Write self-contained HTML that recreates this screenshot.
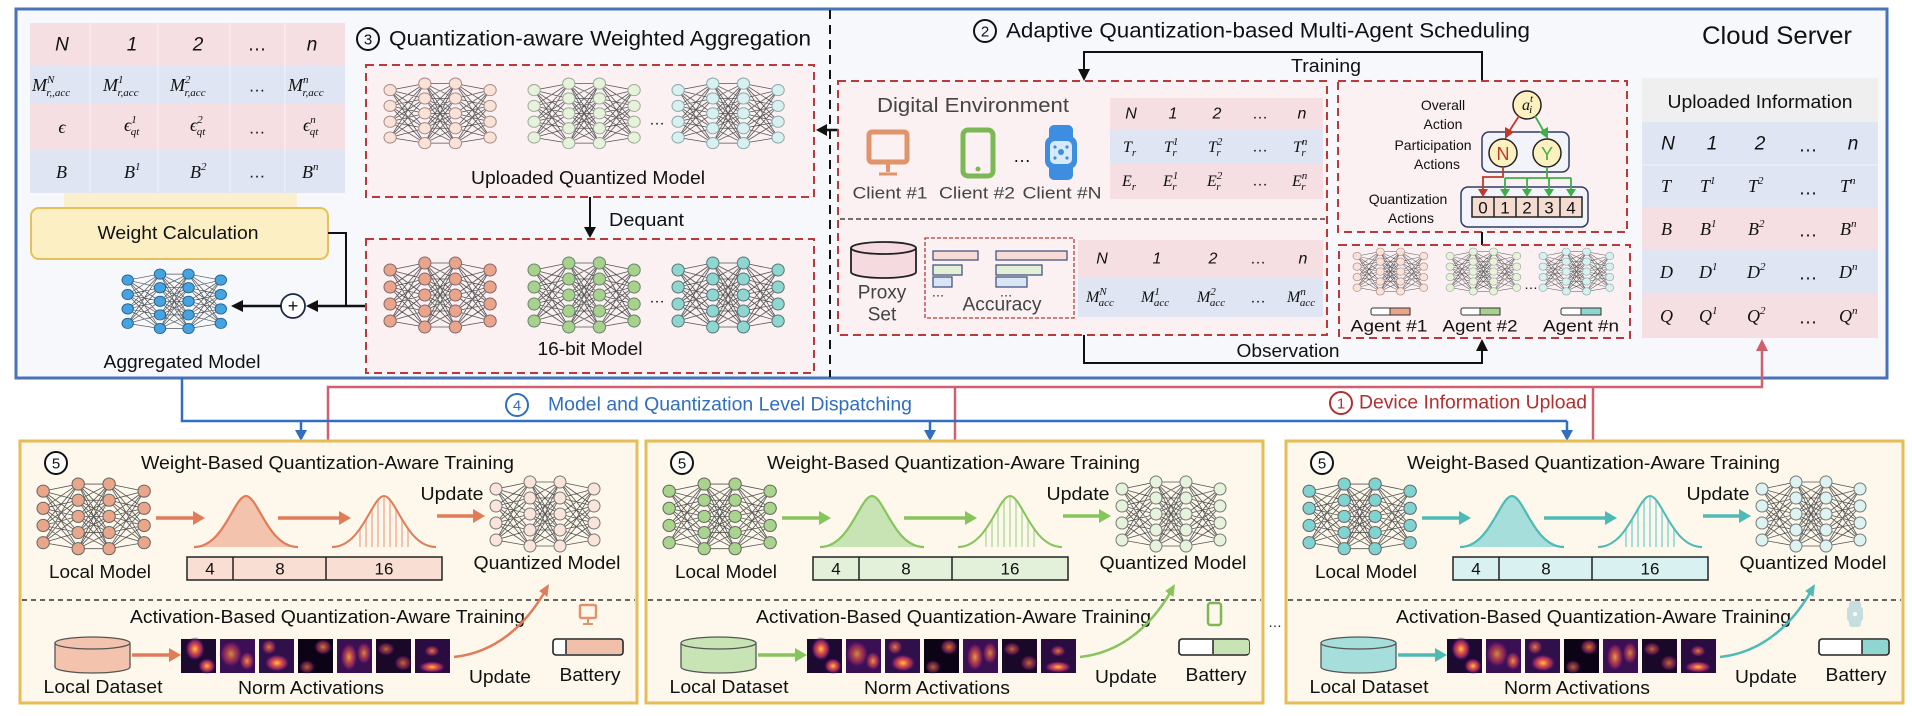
<!DOCTYPE html>
<html><head><meta charset="utf-8"><style>
html,body{margin:0;padding:0;background:#fff;}
svg{display:block;}
text{font-family:"Liberation Sans",Arial,sans-serif;fill:#111;}
.m{font-family:"Liberation Serif",serif;font-style:italic;font-size:18px;}
.s{font-size:11px;}
.c{text-anchor:middle;dominant-baseline:central;}
</style></head><body>
<svg width="1912" height="716" viewBox="0 0 1912 716" xmlns="http://www.w3.org/2000/svg">
<defs>
<g id="nn">
<path fill="none" stroke="#555" stroke-width="0.8" d="M6 13L40 6M6 13L40 22M6 13L40 38M6 13L40 54M6 13L40 70M6 30L40 6M6 30L40 22M6 30L40 38M6 30L40 54M6 30L40 70M6 47L40 6M6 47L40 22M6 47L40 38M6 47L40 54M6 47L40 70M6 64L40 6M6 64L40 22M6 64L40 38M6 64L40 54M6 64L40 70M40 6L70 6M40 6L70 22M40 6L70 38M40 6L70 54M40 6L70 70M40 22L70 6M40 22L70 22M40 22L70 38M40 22L70 54M40 22L70 70M40 38L70 6M40 38L70 22M40 38L70 38M40 38L70 54M40 38L70 70M40 54L70 6M40 54L70 22M40 54L70 38M40 54L70 54M40 54L70 70M40 70L70 6M40 70L70 22M40 70L70 38M40 70L70 54M40 70L70 70M70 6L104 13M70 6L104 30M70 6L104 47M70 6L104 64M70 22L104 13M70 22L104 30M70 22L104 47M70 22L104 64M70 38L104 13M70 38L104 30M70 38L104 47M70 38L104 64M70 54L104 13M70 54L104 30M70 54L104 47M70 54L104 64M70 70L104 13M70 70L104 30M70 70L104 47M70 70L104 64"/>
<g stroke-width="1">
<circle cx="6" cy="13" r="6"/><circle cx="6" cy="30" r="6"/><circle cx="6" cy="47" r="6"/><circle cx="6" cy="64" r="6"/>
<circle cx="40" cy="6" r="6"/><circle cx="40" cy="22" r="6"/><circle cx="40" cy="38" r="6"/><circle cx="40" cy="54" r="6"/><circle cx="40" cy="70" r="6"/>
<circle cx="70" cy="6" r="6"/><circle cx="70" cy="22" r="6"/><circle cx="70" cy="38" r="6"/><circle cx="70" cy="54" r="6"/><circle cx="70" cy="70" r="6"/>
<circle cx="104" cy="13" r="6"/><circle cx="104" cy="30" r="6"/><circle cx="104" cy="47" r="6"/><circle cx="104" cy="64" r="6"/>
</g>
</g>
<radialGradient id="hot">
<stop offset="0" stop-color="#fcc84a"/><stop offset="0.35" stop-color="#e2573f"/><stop offset="0.7" stop-color="#80216c"/><stop offset="1" stop-color="#2a0c40" stop-opacity="0"/>
</radialGradient>
<g id="hm">
<rect x="0" y="0" width="35" height="34" fill="#1c0a30"/><ellipse cx="14" cy="10" rx="10" ry="12" fill="url(#hot)"/><ellipse cx="26" cy="27" rx="9" ry="8" fill="url(#hot)"/>
<rect x="39" y="0" width="35" height="34" fill="#3b0f55"/><ellipse cx="50" cy="15" rx="12" ry="14" fill="url(#hot)" opacity="0.7"/><ellipse cx="66" cy="22" rx="8" ry="10" fill="url(#hot)" opacity="0.8"/>
<rect x="78" y="0" width="35" height="34" fill="#30104a"/><ellipse cx="96" cy="24" rx="13" ry="9" fill="url(#hot)"/><ellipse cx="88" cy="8" rx="8" ry="8" fill="url(#hot)" opacity="0.7"/>
<rect x="117" y="0" width="35" height="34" fill="#0c0416"/><ellipse cx="142" cy="8" rx="9" ry="8" fill="url(#hot)" opacity="0.7"/><ellipse cx="126" cy="28" rx="8" ry="7" fill="url(#hot)" opacity="0.6"/>
<rect x="156" y="0" width="35" height="34" fill="#3a1052"/><ellipse cx="168" cy="18" rx="9" ry="15" fill="url(#hot)" opacity="0.8"/><ellipse cx="183" cy="14" rx="8" ry="12" fill="url(#hot)" opacity="0.7"/>
<rect x="195" y="0" width="35" height="34" fill="#1a0828"/><ellipse cx="205" cy="10" rx="9" ry="7" fill="url(#hot)" opacity="0.6"/><ellipse cx="222" cy="24" rx="9" ry="8" fill="url(#hot)" opacity="0.6"/>
<rect x="234" y="0" width="35" height="34" fill="#2a0c40"/><ellipse cx="251" cy="12" rx="8" ry="6" fill="url(#hot)" opacity="0.7"/><ellipse cx="251" cy="28" rx="14" ry="6" fill="url(#hot)"/>
</g>
<clipPath id="gclip"><path d="M0 51 C30 51 40 0 52 0 C64 0 74 51 104 51 Z"/></clipPath>
<g id="panel">
<rect x="20" y="441" width="617" height="262" fill="#fdf8eb" stroke="#e6bd57" stroke-width="3"/>
<line x1="22" y1="600" x2="635" y2="600" stroke="#333" stroke-width="1.5" stroke-dasharray="5 4"/>
<circle cx="56" cy="463" r="11" fill="#fff" stroke="#111" stroke-width="2"/>
<text x="56" y="464" class="c" font-size="15">5</text>
<text x="141" y="463" dominant-baseline="central" font-size="18" textLength="373" lengthAdjust="spacingAndGlyphs">Weight-Based Quantization-Aware Training</text>
<use href="#nn" transform="translate(37,478) scale(1.03,1.01)" style="fill:var(--n)" stroke="#666"/>
<text x="100" y="572" class="c" font-size="18" textLength="102" lengthAdjust="spacingAndGlyphs">Local Model</text>
<line x1="156" y1="518" x2="194" y2="518" style="stroke:var(--c)" stroke-width="3.5"/>
<polygon points="193,511 205,518 193,525" style="fill:var(--c)"/>
<g transform="translate(194,496)">
<path d="M0 51 C30 51 40 0 52 0 C64 0 74 51 104 51" style="fill:var(--l2);stroke:var(--c)" stroke-width="2.2"/>
</g>
<line x1="278" y1="518" x2="340" y2="518" style="stroke:var(--c)" stroke-width="3.5"/>
<polygon points="339,511 351,518 339,525" style="fill:var(--c)"/>
<g transform="translate(332,496)">
<g clip-path="url(#gclip)" style="stroke:var(--l2)" stroke-width="2">
<line x1="28" y1="0" x2="28" y2="52"/><line x1="34" y1="0" x2="34" y2="52"/><line x1="40" y1="0" x2="40" y2="52"/><line x1="46" y1="0" x2="46" y2="52"/><line x1="52" y1="0" x2="52" y2="52"/><line x1="58" y1="0" x2="58" y2="52"/><line x1="64" y1="0" x2="64" y2="52"/><line x1="70" y1="0" x2="70" y2="52"/><line x1="76" y1="0" x2="76" y2="52"/>
</g>
<path d="M0 51 C30 51 40 0 52 0 C64 0 74 51 104 51" fill="none" style="stroke:var(--c)" stroke-width="2"/>
</g>
<line x1="437" y1="516" x2="474" y2="516" style="stroke:var(--c)" stroke-width="3.5"/>
<polygon points="473,509 485,516 473,523" style="fill:var(--c)"/>
<text x="452" y="494" class="c" font-size="18" textLength="63" lengthAdjust="spacingAndGlyphs">Update</text>
<use href="#nn" transform="translate(490,476) scale(1.0,1.0)" style="fill:var(--q)" stroke="#777"/>
<text x="547" y="563" class="c" font-size="18" textLength="147" lengthAdjust="spacingAndGlyphs">Quantized Model</text>
<rect x="187" y="557" width="255" height="23" style="fill:var(--l)" stroke="#222" stroke-width="1.5"/>
<line x1="233" y1="557" x2="233" y2="580" stroke="#222" stroke-width="1.5"/>
<line x1="326" y1="557" x2="326" y2="580" stroke="#222" stroke-width="1.5"/>
<text x="210" y="569" class="c" font-size="17">4</text>
<text x="280" y="569" class="c" font-size="17">8</text>
<text x="384" y="569" class="c" font-size="17">16</text>
<text x="130" y="617" dominant-baseline="central" font-size="18" textLength="395" lengthAdjust="spacingAndGlyphs">Activation-Based Quantization-Aware Training</text>
<path d="M55 643 L55 667 A37.5 6 0 0 0 130 667 L130 643" style="fill:var(--l2)" stroke="#555" stroke-width="1.3"/>
<ellipse cx="92.5" cy="643" rx="37.5" ry="6" style="fill:var(--l2)" stroke="#555" stroke-width="1.3"/>
<text x="103" y="687" class="c" font-size="18" textLength="119" lengthAdjust="spacingAndGlyphs">Local Dataset</text>
<line x1="132" y1="655" x2="170" y2="655" style="stroke:var(--c)" stroke-width="3.5"/>
<polygon points="169,648 181,655 169,662" style="fill:var(--c)"/>
<use href="#hm" transform="translate(181,639)"/>
<text x="311" y="688" class="c" font-size="18" textLength="146" lengthAdjust="spacingAndGlyphs">Norm Activations</text>
<path d="M454 657 C500 652 528 620 544 593" fill="none" style="stroke:var(--c)" stroke-width="2.5"/>
<polygon points="549,584 547.4,597 539.2,591" style="fill:var(--c)"/>
<text x="500" y="677" class="c" font-size="18" textLength="62" lengthAdjust="spacingAndGlyphs">Update</text>
<text x="590" y="675" class="c" font-size="18" textLength="61" lengthAdjust="spacingAndGlyphs">Battery</text>
<rect x="553" y="639" width="70" height="16" rx="3" fill="#fff" stroke="#222" stroke-width="1.6"/>
</g>
</defs>

<!-- Cloud server -->
<rect x="16" y="9" width="1871" height="369" fill="#f6f8fc" stroke="#4a72b8" stroke-width="3"/>
<line x1="830" y1="10" x2="830" y2="377" stroke="#111" stroke-width="2" stroke-dasharray="9 6"/>

<!-- left table -->
<rect x="30" y="23" width="315" height="43" fill="#f5dfe2"/>
<rect x="30" y="66" width="315" height="38" fill="#dfe5f3"/>
<rect x="30" y="104" width="315" height="46" fill="#f5dfe2"/>
<rect x="30" y="150" width="315" height="43" fill="#dfe5f3"/>
<g stroke="#fff" stroke-width="1" opacity="0.6"><line x1="90" y1="23" x2="90" y2="193"/><line x1="158" y1="23" x2="158" y2="193"/><line x1="230" y1="23" x2="230" y2="193"/><line x1="285" y1="23" x2="285" y2="193"/></g>
<g font-size="19">
<text x="62" y="45" class="c" style="font-style:italic">N</text>
<text x="132" y="45" class="c" style="font-style:italic">1</text>
<text x="198" y="45" class="c" style="font-style:italic">2</text>
<text x="257" y="45" class="c">…</text>
<text x="312" y="45" class="c" style="font-style:italic">n</text>
</g>
<text x="32" y="91" class="m">M<tspan class="s" dy="-8">N</tspan><tspan class="s" dx="-8" dy="13">r,,acc</tspan></text>
<text x="103" y="91" class="m">M<tspan class="s" dy="-8">1</tspan><tspan class="s" dx="-6" dy="13">r,acc</tspan></text>
<text x="170" y="91" class="m">M<tspan class="s" dy="-8">2</tspan><tspan class="s" dx="-6" dy="13">r,acc</tspan></text>
<text x="257" y="86" class="c" font-size="17">…</text>
<text x="288" y="91" class="m">M<tspan class="s" dy="-8">n</tspan><tspan class="s" dx="-6" dy="13">r,acc</tspan></text>
<text x="62" y="127" class="m c">ϵ</text>
<text x="124" y="131" class="m">ϵ<tspan class="s" dy="-8">1</tspan><tspan class="s" dx="-6" dy="12">qt</tspan></text>
<text x="190" y="131" class="m">ϵ<tspan class="s" dy="-8">2</tspan><tspan class="s" dx="-6" dy="12">qt</tspan></text>
<text x="257" y="128" class="c" font-size="17">…</text>
<text x="303" y="131" class="m">ϵ<tspan class="s" dy="-8">n</tspan><tspan class="s" dx="-6" dy="12">qt</tspan></text>
<text x="56" y="178" class="m">B</text>
<text x="124" y="178" class="m">B<tspan class="s" dy="-8">1</tspan></text>
<text x="190" y="178" class="m">B<tspan class="s" dy="-8">2</tspan></text>
<text x="257" y="172" class="c" font-size="17">…</text>
<text x="302" y="178" class="m">B<tspan class="s" dy="-8">n</tspan></text>

<rect x="64" y="193" width="233" height="16" fill="#fbf0cd"/>
<rect x="31" y="208" width="297" height="51" rx="8" fill="#fcefc4" stroke="#e6c05c" stroke-width="2"/>
<text x="178" y="233" class="c" font-size="18" textLength="161" lengthAdjust="spacingAndGlyphs">Weight Calculation</text>

<use href="#nn" transform="translate(122,269) scale(0.95,0.85)" fill="#45a4e0" stroke="#245f90"/>
<text x="182" y="362" class="c" font-size="18" textLength="157" lengthAdjust="spacingAndGlyphs">Aggregated Model</text>
<polyline points="328,233 346,233 346,306" fill="none" stroke="#111" stroke-width="2"/>
<line x1="366" y1="306" x2="316" y2="306" stroke="#111" stroke-width="2.5"/>
<polygon points="318,300 306,306 318,312" fill="#111"/>
<circle cx="293" cy="306" r="12" fill="#fff" stroke="#1b2a4a" stroke-width="1.8"/>
<text x="293" y="306" class="c" font-size="18">+</text>
<line x1="281" y1="306" x2="242" y2="306" stroke="#111" stroke-width="2.5"/>
<polygon points="243,300 231,306 243,312" fill="#111"/>

<!-- Section 3 -->
<circle cx="368" cy="39" r="11" fill="none" stroke="#111" stroke-width="2"/>
<text x="368" y="40" class="c" font-size="15">3</text>
<text x="389" y="39" dominant-baseline="central" font-size="21" textLength="422" lengthAdjust="spacingAndGlyphs">Quantization-aware Weighted Aggregation</text>
<rect x="366" y="65" width="448" height="132" fill="#fbf0f2" stroke="#b83a3a" stroke-width="2" stroke-dasharray="8 5"/>
<use href="#nn" transform="translate(384,78) scale(1.02,0.93)" fill="#f9e2d6" stroke="#a88"/>
<use href="#nn" transform="translate(528,78) scale(1.02,0.93)" fill="#e6f2da" stroke="#9a9"/>
<use href="#nn" transform="translate(672,78) scale(1.02,0.93)" fill="#d8f0ef" stroke="#8aa"/>
<text x="657" y="120" class="c" font-size="16">…</text>
<text x="588" y="178" class="c" font-size="18" textLength="234" lengthAdjust="spacingAndGlyphs">Uploaded Quantized Model</text>
<line x1="590" y1="197" x2="590" y2="228" stroke="#111" stroke-width="2"/>
<polygon points="584,227 590,238 596,227" fill="#111"/>
<text x="609" y="220" dominant-baseline="central" font-size="18" textLength="75" lengthAdjust="spacingAndGlyphs">Dequant</text>
<rect x="366" y="239" width="448" height="134" fill="#fbf0f2" stroke="#b83a3a" stroke-width="2" stroke-dasharray="8 5"/>
<use href="#nn" transform="translate(384,257) scale(1.02,1)" fill="#e8a58c" stroke="#866"/>
<use href="#nn" transform="translate(528,257) scale(1.02,1)" fill="#a9d18e" stroke="#686"/>
<use href="#nn" transform="translate(672,257) scale(1.02,1)" fill="#8fd6d0" stroke="#577"/>
<text x="657" y="298" class="c" font-size="16">…</text>
<text x="590" y="349" class="c" font-size="18" textLength="105" lengthAdjust="spacingAndGlyphs">16-bit Model</text>
<line x1="838" y1="130" x2="826" y2="130" stroke="#111" stroke-width="2.5"/>
<polygon points="827,124 816,130 827,136" fill="#111"/>

<!-- Section 2 -->
<circle cx="985" cy="31" r="11" fill="none" stroke="#111" stroke-width="2"/>
<text x="985" y="32" class="c" font-size="15">2</text>
<text x="1006" y="31" dominant-baseline="central" font-size="21" textLength="524" lengthAdjust="spacingAndGlyphs">Adaptive Quantization-based Multi-Agent Scheduling</text>
<text x="1777" y="36" class="c" font-size="25" textLength="150" lengthAdjust="spacingAndGlyphs">Cloud Server</text>

<polyline points="1482,81 1482,52 1084,52 1084,70" fill="none" stroke="#111" stroke-width="2"/>
<polygon points="1078,69 1084,81 1090,69" fill="#111"/>
<text x="1326" y="66" class="c" font-size="18" textLength="70" lengthAdjust="spacingAndGlyphs">Training</text>

<rect x="838" y="81" width="489" height="254" fill="#fbf0f2" stroke="#b83a3a" stroke-width="2" stroke-dasharray="8 5"/>
<line x1="840" y1="219" x2="1325" y2="219" stroke="#222" stroke-width="1.3" stroke-dasharray="5 3"/>
<text x="973" y="106" class="c" font-size="20" fill="#444" style="fill:#444" textLength="192" lengthAdjust="spacingAndGlyphs">Digital Environment</text>
<!-- monitor -->
<rect x="869" y="132" width="38" height="30" rx="3" fill="none" stroke="#e0946c" stroke-width="5"/>
<line x1="888" y1="163" x2="888" y2="172" stroke="#e0946c" stroke-width="4"/>
<line x1="879" y1="174" x2="897" y2="174" stroke="#e0946c" stroke-width="3"/>
<!-- phone -->
<rect x="963" y="130" width="30" height="46" rx="5" fill="none" stroke="#7cb955" stroke-width="5"/>
<circle cx="978" cy="169" r="2.5" fill="#7cb955"/>
<text x="1022" y="156" class="c" font-size="18">…</text>
<!-- watch -->
<rect x="1049" y="125" width="24" height="55" rx="5" fill="#3d8ee0"/>
<rect x="1045" y="136" width="32" height="33" rx="8" fill="#3d8ee0"/>
<rect x="1050" y="141" width="22" height="23" rx="5" fill="#d8e9f8"/>
<circle cx="1061" cy="152" r="3" fill="#3d8ee0"/><circle cx="1055" cy="147" r="1.6" fill="#3d8ee0"/><circle cx="1067" cy="147" r="1.6" fill="#3d8ee0"/><circle cx="1055" cy="158" r="1.6" fill="#3d8ee0"/><circle cx="1067" cy="158" r="1.6" fill="#3d8ee0"/>
<g font-size="17" style="fill:#444">
<text x="890" y="193" class="c" style="fill:#444" textLength="75" lengthAdjust="spacingAndGlyphs">Client #1</text>
<text x="977" y="193" class="c" style="fill:#444" textLength="76" lengthAdjust="spacingAndGlyphs">Client #2</text>
<text x="1062" y="193" class="c" style="fill:#444" textLength="79" lengthAdjust="spacingAndGlyphs">Client #N</text>
</g>
<!-- T/E table -->
<rect x="1110" y="98" width="213" height="32" fill="#f5dfe2"/>
<rect x="1110" y="130" width="213" height="34" fill="#dfe5f3"/>
<rect x="1110" y="164" width="213" height="35" fill="#f5dfe2"/>
<g font-size="16">
<text x="1131" y="114" class="c" style="font-style:italic">N</text>
<text x="1173" y="114" class="c" style="font-style:italic">1</text>
<text x="1217" y="114" class="c" style="font-style:italic">2</text>
<text x="1260" y="114" class="c">…</text>
<text x="1302" y="114" class="c" style="font-style:italic">n</text>
<text x="1260" y="147" class="c">…</text>
<text x="1260" y="181" class="c">…</text>
</g>
<g class="m" font-size="16" style="font-size:16px">
<text x="1123" y="152" class="m" style="font-size:16px">T<tspan class="s" dy="4">r</tspan></text>
<text x="1164" y="152" class="m" style="font-size:16px">T<tspan class="s" dy="-7">1</tspan><tspan class="s" dx="-6" dy="11">r</tspan></text>
<text x="1208" y="152" class="m" style="font-size:16px">T<tspan class="s" dy="-7">2</tspan><tspan class="s" dx="-6" dy="11">r</tspan></text>
<text x="1293" y="152" class="m" style="font-size:16px">T<tspan class="s" dy="-7">n</tspan><tspan class="s" dx="-6" dy="11">r</tspan></text>
<text x="1122" y="186" class="m" style="font-size:16px">E<tspan class="s" dy="4">r</tspan></text>
<text x="1163" y="186" class="m" style="font-size:16px">E<tspan class="s" dy="-7">1</tspan><tspan class="s" dx="-6" dy="11">r</tspan></text>
<text x="1207" y="186" class="m" style="font-size:16px">E<tspan class="s" dy="-7">2</tspan><tspan class="s" dx="-6" dy="11">r</tspan></text>
<text x="1292" y="186" class="m" style="font-size:16px">E<tspan class="s" dy="-7">n</tspan><tspan class="s" dx="-6" dy="11">r</tspan></text>
</g>
<!-- proxy -->
<path d="M851 248 L851 272 A32.5 6 0 0 0 916 272 L916 248" fill="#f5dadf" stroke="#222" stroke-width="1.8"/>
<ellipse cx="883.5" cy="248" rx="32.5" ry="6" fill="#f5dadf" stroke="#222" stroke-width="1.8"/>
<text x="882" y="293" class="c" font-size="19" style="fill:#444">Proxy</text>
<text x="882" y="315" class="c" font-size="19" style="fill:#444">Set</text>
<rect x="925" y="238" width="149" height="80" fill="none" stroke="#b83a3a" stroke-width="1.3" stroke-dasharray="4 2"/>
<g stroke="#3a4a78" stroke-width="1.2">
<rect x="933" y="251" width="45" height="9" fill="#f5dcd6"/><rect x="933" y="265" width="29" height="10" fill="#e1f0d6"/><rect x="933" y="277" width="19" height="10" fill="#d9e4f4"/>
<rect x="996" y="251" width="71" height="9" fill="#f5dcd6"/><rect x="996" y="265" width="46" height="10" fill="#e1f0d6"/><rect x="996" y="277" width="31" height="10" fill="#d9e4f4"/>
</g>
<text x="938" y="292" class="c" font-size="13">…</text>
<text x="1006" y="292" class="c" font-size="13">…</text>
<text x="1002" y="305" class="c" font-size="19" style="fill:#444" textLength="79" lengthAdjust="spacingAndGlyphs">Accuracy</text>
<rect x="1078" y="240" width="245" height="38" fill="#f5dfe2"/>
<rect x="1078" y="278" width="245" height="39" fill="#dfe5f3"/>
<g font-size="16">
<text x="1102" y="259" class="c" style="font-style:italic">N</text>
<text x="1157" y="259" class="c" style="font-style:italic">1</text>
<text x="1213" y="259" class="c" style="font-style:italic">2</text>
<text x="1258" y="259" class="c">…</text>
<text x="1303" y="259" class="c" style="font-style:italic">n</text>
<text x="1258" y="298" class="c">…</text>
</g>
<text x="1086" y="302" class="m" style="font-size:16px">M<tspan class="s" dy="-7">N</tspan><tspan class="s" dx="-8" dy="11">acc</tspan></text>
<text x="1141" y="302" class="m" style="font-size:16px">M<tspan class="s" dy="-7">1</tspan><tspan class="s" dx="-6" dy="11">acc</tspan></text>
<text x="1197" y="302" class="m" style="font-size:16px">M<tspan class="s" dy="-7">2</tspan><tspan class="s" dx="-6" dy="11">acc</tspan></text>
<text x="1287" y="302" class="m" style="font-size:16px">M<tspan class="s" dy="-7">n</tspan><tspan class="s" dx="-6" dy="11">acc</tspan></text>

<!-- policy box -->
<rect x="1338" y="81" width="289" height="151" fill="#fbf0f2" stroke="#b83a3a" stroke-width="2" stroke-dasharray="8 5"/>
<g font-size="14">
<text x="1443" y="105" class="c">Overall</text>
<text x="1443" y="124" class="c">Action</text>
<text x="1433" y="145" class="c">Participation</text>
<text x="1437" y="164" class="c">Actions</text>
<text x="1408" y="199" class="c">Quantization</text>
<text x="1411" y="218" class="c">Actions</text>
</g>
<rect x="1482" y="132" width="87" height="40" rx="7" fill="#f3f4fa" stroke="#2e3c66" stroke-width="1.5"/>
<circle cx="1527" cy="105" r="14" fill="#fdf1bf" stroke="#222" stroke-width="1.5"/>
<text x="1522" y="110" class="m" style="font-size:16px">a<tspan class="s" dy="-8">t</tspan><tspan class="s" dx="-4" dy="11">i</tspan></text>
<line x1="1519" y1="116" x2="1510" y2="130" stroke="#c0392b" stroke-width="1.8"/>
<polygon points="1505,127 1505,139 1514,132" fill="#c0392b"/>
<line x1="1535" y1="116" x2="1543" y2="130" stroke="#3fae49" stroke-width="1.8"/>
<polygon points="1539,132 1548,139 1548,127" fill="#3fae49"/>
<circle cx="1503" cy="153" r="14" fill="#fdf1bf" stroke="#222" stroke-width="1.5"/>
<text x="1503" y="154" class="c" font-size="18" style="fill:#c0392b">N</text>
<circle cx="1547" cy="153" r="14" fill="#fdf1bf" stroke="#222" stroke-width="1.5"/>
<text x="1547" y="154" class="c" font-size="18" style="fill:#3fae49">Y</text>
<rect x="1461" y="187" width="127" height="40" rx="7" fill="#f3f4fa" stroke="#2e3c66" stroke-width="1.5"/>
<rect x="1472" y="197" width="110" height="20" fill="#f5dcd0" stroke="#222" stroke-width="1.5"/>
<g stroke="#222" stroke-width="1.5"><line x1="1494" y1="197" x2="1494" y2="217"/><line x1="1516" y1="197" x2="1516" y2="217"/><line x1="1538" y1="197" x2="1538" y2="217"/><line x1="1560" y1="197" x2="1560" y2="217"/></g>
<g font-size="17"><text x="1483" y="208" class="c">0</text><text x="1505" y="208" class="c">1</text><text x="1527" y="208" class="c">2</text><text x="1549" y="208" class="c">3</text><text x="1571" y="208" class="c">4</text></g>
<polyline points="1503,167 1503,177 1483,177 1483,190" fill="none" stroke="#c0392b" stroke-width="1.8"/>
<polygon points="1478,189 1483,197 1488,189" fill="#c0392b"/>
<polyline points="1547,167 1547,178" fill="none" stroke="#3fae49" stroke-width="1.8"/>
<line x1="1505" y1="178" x2="1571" y2="178" stroke="#3fae49" stroke-width="1.8"/>
<g stroke="#3fae49" stroke-width="1.8"><line x1="1505" y1="178" x2="1505" y2="190"/><line x1="1527" y1="178" x2="1527" y2="190"/><line x1="1549" y1="178" x2="1549" y2="190"/><line x1="1571" y1="178" x2="1571" y2="190"/></g>
<g fill="#3fae49"><polygon points="1500,189 1505,197 1510,189"/><polygon points="1522,189 1527,197 1532,189"/><polygon points="1544,189 1549,197 1554,189"/><polygon points="1566,189 1571,197 1576,189"/></g>
<line x1="1482" y1="232" x2="1482" y2="245" stroke="#111" stroke-width="2"/>

<!-- agents -->
<rect x="1339" y="245" width="291" height="93" fill="#fbf0f2" stroke="#b83a3a" stroke-width="2" stroke-dasharray="8 5"/>
<use href="#nn" transform="translate(1353,248) scale(0.68,0.62)" fill="#f9e2d6" stroke="#a88"/>
<use href="#nn" transform="translate(1446,248) scale(0.68,0.62)" fill="#e6f2da" stroke="#9a9"/>
<use href="#nn" transform="translate(1539,248) scale(0.68,0.62)" fill="#d8f0ef" stroke="#8aa"/>
<text x="1531" y="284" class="c" font-size="14">…</text>
<rect x="1371" y="308" width="39" height="7" rx="2" fill="#fff" stroke="#333"/><rect x="1390" y="308" width="20" height="7" fill="#e8a58c" stroke="#333"/>
<rect x="1461" y="308" width="39" height="7" rx="2" fill="#fff" stroke="#333"/><rect x="1480" y="308" width="20" height="7" fill="#a9d18e" stroke="#333"/>
<rect x="1561" y="308" width="40" height="7" rx="2" fill="#fff" stroke="#333"/><rect x="1581" y="308" width="20" height="7" fill="#8fd6d0" stroke="#333"/>
<g font-size="17">
<text x="1389" y="326" class="c" textLength="77" lengthAdjust="spacingAndGlyphs">Agent #1</text>
<text x="1480" y="326" class="c" textLength="75" lengthAdjust="spacingAndGlyphs">Agent #2</text>
<text x="1581" y="326" class="c" textLength="76" lengthAdjust="spacingAndGlyphs">Agent #n</text>
</g>
<polyline points="1084,335 1084,363 1482,363 1482,350" fill="none" stroke="#111" stroke-width="2"/>
<polygon points="1476,351 1482,339 1488,351" fill="#111"/>
<text x="1288" y="351" class="c" font-size="18" textLength="103" lengthAdjust="spacingAndGlyphs">Observation</text>

<!-- uploaded info -->
<rect x="1642" y="78" width="236" height="44" fill="#efefef"/>
<text x="1760" y="102" class="c" font-size="18" textLength="185" lengthAdjust="spacingAndGlyphs">Uploaded Information</text>
<rect x="1642" y="122" width="236" height="43" fill="#dfe5f3"/>
<rect x="1642" y="165" width="236" height="42" fill="#dfe5f3"/>
<rect x="1642" y="207" width="236" height="43" fill="#f5dfe2"/>
<rect x="1642" y="250" width="236" height="43" fill="#dfe5f3"/>
<rect x="1642" y="293" width="236" height="45" fill="#f5dfe2"/>
<line x1="1642" y1="165" x2="1878" y2="165" stroke="#fff" opacity="0.6"/>
<g font-size="19">
<text x="1668" y="144" class="c" style="font-style:italic">N</text>
<text x="1712" y="144" class="c" style="font-style:italic">1</text>
<text x="1760" y="144" class="c" style="font-style:italic">2</text>
<text x="1808" y="146" class="c">…</text>
<text x="1853" y="144" class="c" style="font-style:italic">n</text>
<text x="1808" y="189" class="c">…</text><text x="1808" y="231" class="c">…</text><text x="1808" y="274" class="c">…</text><text x="1808" y="318" class="c">…</text>
</g>
<text x="1661" y="192" class="m">T</text><text x="1700" y="192" class="m">T<tspan class="s" dy="-8">1</tspan></text><text x="1748" y="192" class="m">T<tspan class="s" dy="-8">2</tspan></text><text x="1840" y="192" class="m">T<tspan class="s" dy="-8">n</tspan></text>
<text x="1661" y="235" class="m">B</text><text x="1700" y="235" class="m">B<tspan class="s" dy="-8">1</tspan></text><text x="1748" y="235" class="m">B<tspan class="s" dy="-8">2</tspan></text><text x="1840" y="235" class="m">B<tspan class="s" dy="-8">n</tspan></text>
<text x="1660" y="278" class="m">D</text><text x="1699" y="278" class="m">D<tspan class="s" dy="-8">1</tspan></text><text x="1747" y="278" class="m">D<tspan class="s" dy="-8">2</tspan></text><text x="1839" y="278" class="m">D<tspan class="s" dy="-8">n</tspan></text>
<text x="1660" y="322" class="m">Q</text><text x="1699" y="322" class="m">Q<tspan class="s" dy="-8">1</tspan></text><text x="1747" y="322" class="m">Q<tspan class="s" dy="-8">2</tspan></text><text x="1839" y="322" class="m">Q<tspan class="s" dy="-8">n</tspan></text>

<!-- dispatch / upload lines -->
<polyline points="328,441 328,387 1762,387 1762,350" fill="none" stroke="#d0606e" stroke-width="2.5"/>
<polygon points="1756,351 1762,339 1768,351" fill="#d0606e"/>
<line x1="955" y1="441" x2="955" y2="387" stroke="#d0606e" stroke-width="2.5"/>
<line x1="1593" y1="441" x2="1593" y2="387" stroke="#d0606e" stroke-width="2.5"/>
<polyline points="182,378 182,421 1567,421" fill="none" stroke="#2f6ec0" stroke-width="2.5"/>
<g stroke="#2f6ec0" stroke-width="2.5"><line x1="301" y1="421" x2="301" y2="432"/><line x1="930" y1="421" x2="930" y2="432"/><line x1="1567" y1="421" x2="1567" y2="432"/></g>
<g fill="#2f6ec0"><polygon points="295,430 301,441 307,430"/><polygon points="924,430 930,441 936,430"/><polygon points="1561,430 1567,441 1573,430"/></g>
<circle cx="517" cy="405" r="11" fill="none" stroke="#2f6ec0" stroke-width="2"/>
<text x="517" y="406" class="c" font-size="15" style="fill:#2f6ec0">4</text>
<text x="548" y="405" dominant-baseline="central" font-size="19" style="fill:#2f6ec0" textLength="364" lengthAdjust="spacingAndGlyphs">Model and Quantization Level Dispatching</text>
<circle cx="1341" cy="403" r="11" fill="none" stroke="#b03030" stroke-width="2"/>
<text x="1341" y="404" class="c" font-size="15" style="fill:#b03030">1</text>
<text x="1359" y="403" dominant-baseline="central" font-size="19" style="fill:#b03030" textLength="228" lengthAdjust="spacingAndGlyphs">Device Information Upload</text>

<!-- panels -->
<use href="#panel" style="--c:#e07c58;--l:#f9dfd3;--l2:#f3c3ad;--n:#eaa68b;--q:#fbe4da"/>
<use href="#panel" transform="translate(626,0)" style="--c:#86c45c;--l:#e4f1da;--l2:#c8e4b4;--n:#a9d48b;--q:#e6f3dc"/>
<use href="#panel" transform="translate(1266,0)" style="--c:#4fbab5;--l:#d9f1f0;--l2:#a5dedb;--n:#7fd3d0;--q:#dcf3f2"/>
<text x="1275" y="622" class="c" font-size="14">…</text>
<!-- batteries -->
<rect x="566" y="640" width="56" height="14" rx="2" fill="#f0c0aa"/><line x1="566" y1="640" x2="566" y2="654" stroke="#222" stroke-width="1.5"/>
<rect x="1213" y="640" width="36" height="14" rx="2" fill="#c8e4b4"/><line x1="1213" y1="640" x2="1213" y2="654" stroke="#222" stroke-width="1.5"/>
<rect x="1862" y="640" width="26" height="14" rx="2" fill="#8fd6d0"/><line x1="1862" y1="640" x2="1862" y2="654" stroke="#222" stroke-width="1.5"/>
<!-- device icons -->
<rect x="580" y="605" width="16" height="13" rx="1.5" fill="none" stroke="#e0946c" stroke-width="2.5"/>
<line x1="588" y1="618" x2="588" y2="623" stroke="#e0946c" stroke-width="2"/><line x1="583" y1="624" x2="593" y2="624" stroke="#e0946c" stroke-width="2"/>
<rect x="1208" y="603" width="13" height="22" rx="2.5" fill="none" stroke="#7cb955" stroke-width="2.5"/>
<rect x="1849" y="601" width="12" height="26" rx="3" fill="#c6dedd"/>
<rect x="1847" y="606" width="16" height="16" rx="4" fill="#c6dedd"/>
<circle cx="1855" cy="614" r="2" fill="#fff"/>
</svg>
</body></html>
